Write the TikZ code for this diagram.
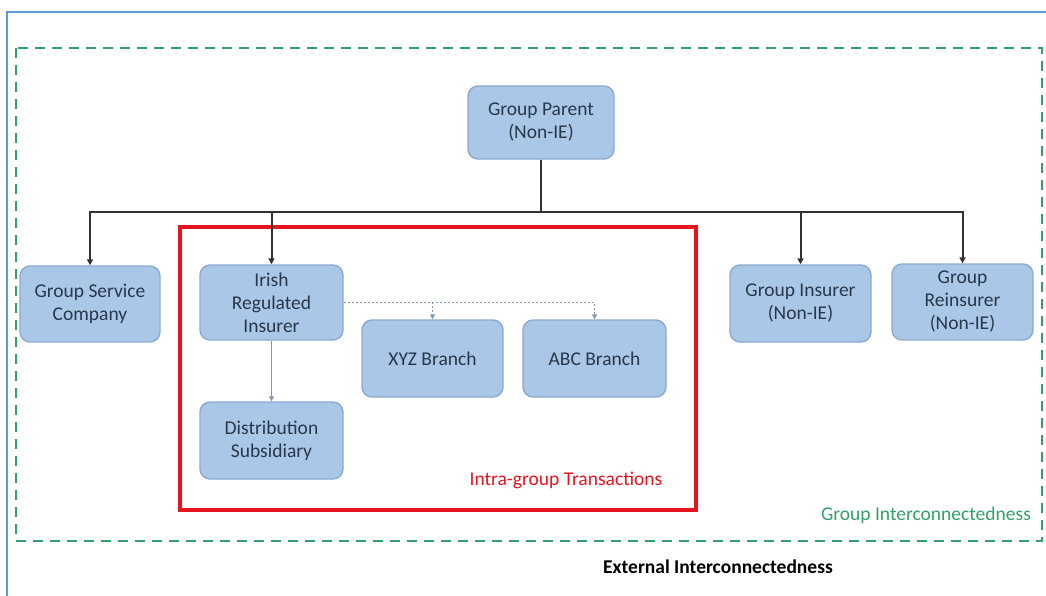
\documentclass[tikz,border=0pt]{standalone}
\usepackage{fontspec}
\setmainfont{Carlito}
\usetikzlibrary{arrows.meta}
\definecolor{boxfill}{RGB}{170,199,232}
\definecolor{boxline}{RGB}{140,170,206}
\definecolor{boxtext}{RGB}{40,55,75}
\definecolor{framecol}{RGB}{95,155,215}
\definecolor{grp}{RGB}{50,160,110}
\definecolor{intra}{RGB}{230,20,30}
\definecolor{conncol}{RGB}{50,50,50}
\definecolor{dashcol}{RGB}{130,150,180}
\tikzset{
  entity/.style={draw=boxline, line width=1.4pt, fill=boxfill, rounded corners=10pt,
    align=center, text=boxtext, inner sep=2pt,
    font=\fontsize{19.5}{23}\selectfont},
  conn/.style={draw=conncol, line width=2pt, -{Triangle[length=6pt,width=6pt]}},
  dconn/.style={draw=dashcol, line width=1pt, dash pattern=on 2pt off 2pt, -{Triangle[length=5pt,width=5pt]}},
  sconn/.style={draw=dashcol, line width=1.2pt, -{Triangle[length=5pt,width=5pt]}},
  lbl/.style={font=\fontsize{19.5}{23}\selectfont, inner sep=0pt}
}
\begin{document}
\begin{tikzpicture}[x=1pt,y=-1pt]
\useasboundingbox (0,0) rectangle (1046,596);
\fill[white] (0,0) rectangle (1046,596);
% outer frame
\draw[framecol, line width=1.8pt] (7,596) -- (7,12) -- (1046,12);
% group interconnectedness
\draw[grp, line width=2.6pt, dash pattern=on 10pt off 7pt] (16,48) rectangle (1042,541);
% intra-group box
\draw[intra, line width=3.2pt] (180,227) rectangle (696,510);

\node[entity, minimum width=146pt, minimum height=73pt] (parent) at (541,122.5) {Group Parent\\(Non-IE)};
\node[entity, minimum width=140pt, minimum height=76pt] (gsc) at (90,304) {Group Service\\Company};
\node[entity, minimum width=143pt, minimum height=75pt] (irish) at (271.5,302.5) {Irish\\Regulated\\Insurer};
\node[entity, minimum width=141pt, minimum height=77pt] (xyz) at (432.5,358.5) {XYZ Branch};
\node[entity, minimum width=143pt, minimum height=77pt] (abc) at (594.5,358.5) {ABC Branch};
\node[entity, minimum width=143pt, minimum height=77pt] (dist) at (271.5,440.5) {Distribution\\Subsidiary};
\node[entity, minimum width=141pt, minimum height=77pt] (gi) at (800.5,303.5) {Group Insurer\\(Non-IE)};
\node[entity, minimum width=141pt, minimum height=76pt] (gr) at (962.5,302) {Group\\Reinsurer\\(Non-IE)};

\coordinate (bus) at (541,212);
\draw[conn] (parent.south) -- (bus) -| (gsc.north);
\draw[conn] (parent.south) -- (bus) -| (irish.north);
\draw[conn] (parent.south) -- (bus) -| (gi.north);
\draw[conn] (parent.south) -- (bus) -| (gr.north);

\draw[dconn] (irish.east) -| (xyz.north);
\draw[dconn] (irish.east) -| (abc.north);
\draw[sconn] (irish.south) -- (dist.north);

\node[lbl, text=intra] (intralbl) at (566,480) {Intra-group Transactions};
\node[lbl, text=grp] (grplbl) at (926,515) {Group Interconnectedness};
\node[lbl, text=black, font=\fontsize{19.5}{23}\bfseries] (extlbl) at (718,567) {External Interconnectedness};
\end{tikzpicture}
\end{document}
